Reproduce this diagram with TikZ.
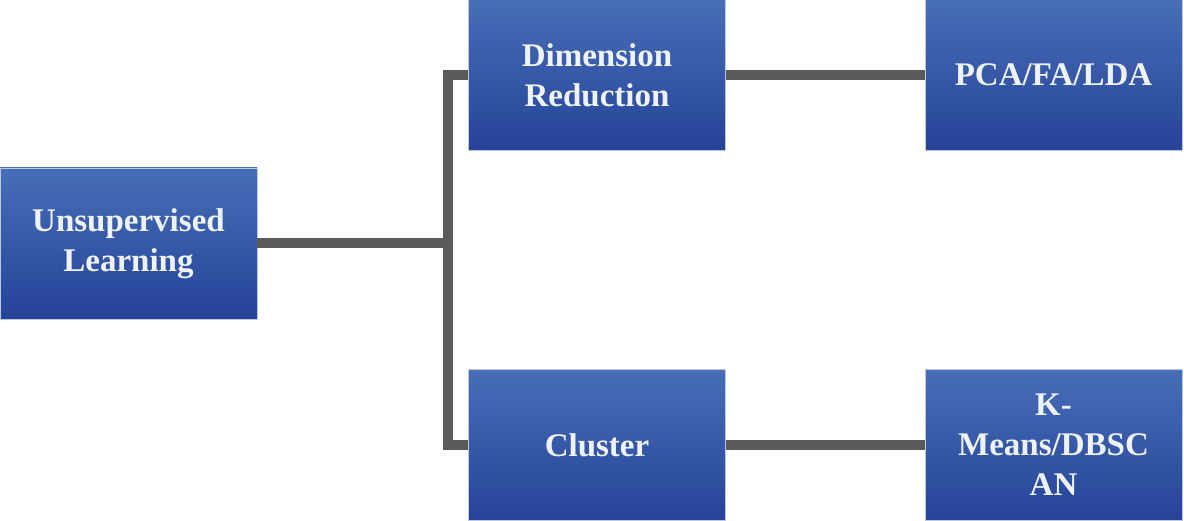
\documentclass[tikz,border=0pt]{standalone}
\usepackage{fontspec}
\setmainfont{Liberation Serif}
\definecolor{boxtop}{RGB}{72,110,183}
\definecolor{boxbot}{RGB}{37,67,152}
\definecolor{boxtext}{RGB}{238,242,250}
\definecolor{linkgray}{RGB}{90,90,90}
\begin{document}
\begin{tikzpicture}[x=1pt,y=-1pt,
    box/.style={top color=boxtop, bottom color=boxbot, draw={rgb,255:red,190;green,200;blue,220}, line width=0.4pt,
      minimum width=257pt, minimum height=151pt, inner sep=0pt, align=center,
      text=boxtext, font=\bfseries\fontsize{33}{40}\selectfont},
    link/.style={draw=linkgray, line width=10pt}]
    \useasboundingbox (0,0) rectangle (1184,521);
    \node[box] (ul) at (128.5,243.5) {Unsupervised\\Learning};
    \node[box] (dr) at (597,75) {Dimension\\Reduction};
    \node[box] (cl) at (597,445) {Cluster};
    \node[box] (pca) at (1053.5,75) {PCA/FA/LDA};
    \node[box] (km) at (1053.5,445) {K-\\Means/DBSC\\AN};
    \coordinate (jt) at (448,75);
    \coordinate (jb) at (448,445);
    % tree connectors
    \draw[link] (ul.east) -- (ul.east -| jt);
    \draw[link] (dr.west) -- (jt) -- (jb) -- (cl.west);
    \draw[link] (dr.east) -- (pca.west);
    \draw[link] (cl.east) -- (km.west);
\end{tikzpicture}
\end{document}
